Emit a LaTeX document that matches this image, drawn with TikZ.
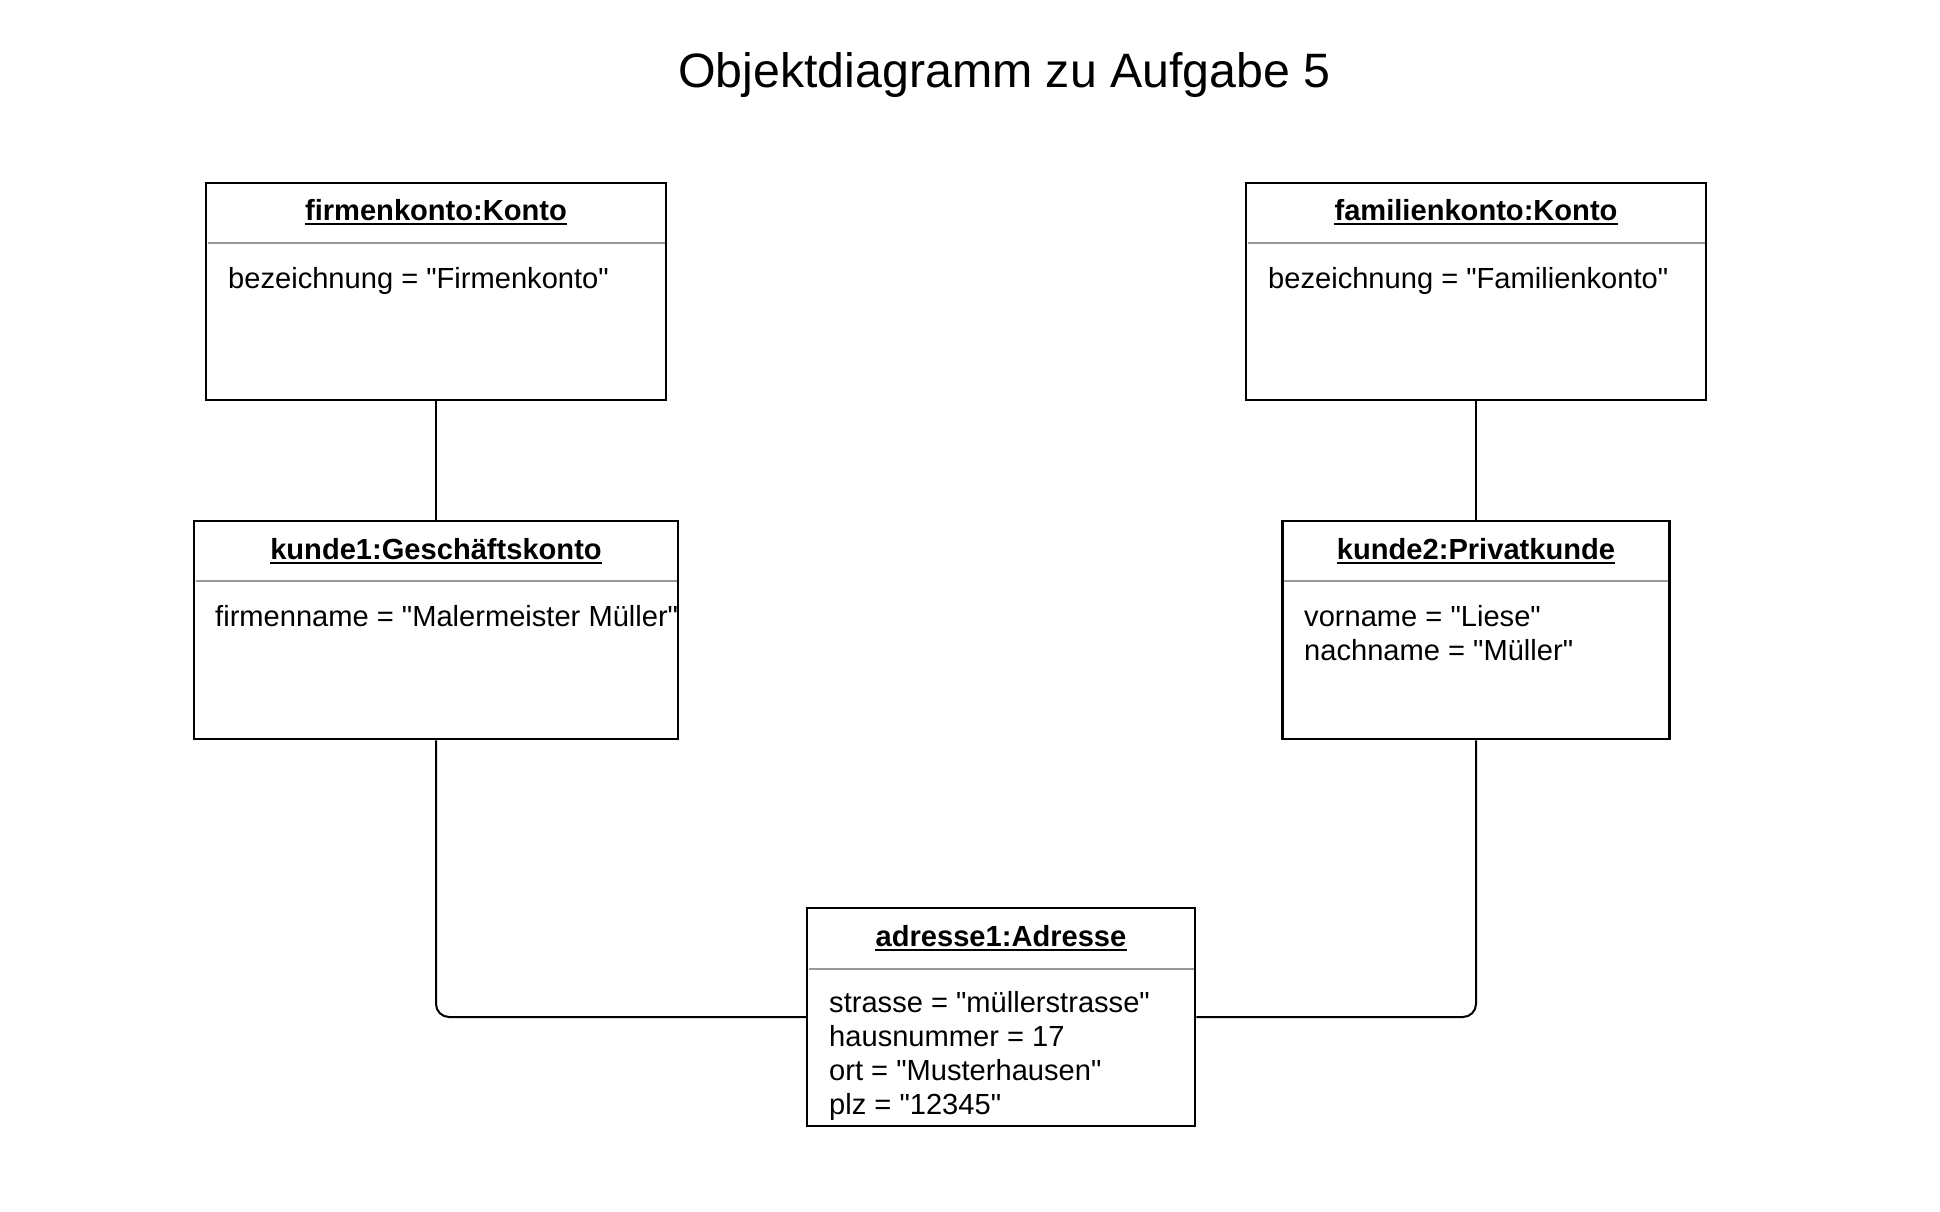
\documentclass[tikz,border=0pt]{standalone}
\usepackage{fontspec}
\setmainfont{Liberation Sans}[Ligatures=TeXOff]
\begin{document}
\begin{tikzpicture}[x=1pt,y=-1pt,
  obj/.style={draw=black, line width=2.5pt, rectangle, inner sep=0pt},
  hdr/.style={font=\fontsize{29.1}{34}\selectfont\bfseries, anchor=base, inner sep=0pt},
  attr/.style={font=\fontsize{29.1}{34}\selectfont, anchor=base west, inner sep=0pt},
  sepline/.style={draw=black!40, line width=2pt},
  uline/.style={draw=black, line width=2pt},
  conn/.style={draw=black, line width=2pt, rounded corners=13pt}]

\useasboundingbox (0,0) rectangle (1940,1212);

\node[font=\fontsize{48.3}{56}\selectfont, anchor=base, inner sep=0pt] (title) at (1004.5,88) {Objektdiagramm zu Aufgabe 5};

% boxes
\node[obj, minimum width=460pt, minimum height=217pt] (fk) at (436,291.5) {};
\node[obj, minimum width=460pt, minimum height=217pt] (famk) at (1476,291.5) {};
\node[obj, minimum width=484pt, minimum height=218pt] (k1) at (436,630) {};
\node[obj, minimum width=387pt, minimum height=218pt] (k2) at (1476,630) {};
\node[obj, minimum width=388pt, minimum height=218pt] (ad) at (1001,1017) {};

% connectors
\draw[conn] (fk.south) -- (k1.north);
\draw[conn] (famk.south) -- (k2.north);
\draw[conn] (k1.south) |- (ad.west);
\draw[conn] (k2.south) |- (ad.east);

% firmenkonto
\node[hdr] (fkh) at (436,220) {firmenkonto:Konto};
\draw[uline] ([yshift=-4pt]fkh.base west) -- ([yshift=-4pt]fkh.base east);
\draw[sepline] (207.5,243) -- (664.5,243);
\node[attr] (fka) at (228,288) {bezeichnung = "Firmenkonto"};

% familienkonto
\node[hdr] (famkh) at (1476,220) {familienkonto:Konto};
\draw[uline] ([yshift=-4pt]famkh.base west) -- ([yshift=-4pt]famkh.base east);
\draw[sepline] (1247.5,243) -- (1704.5,243);
\node[attr] (famka) at (1268,288) {bezeichnung = "Familienkonto"};

% kunde1
\node[hdr] (k1h) at (436,559) {kunde1:Geschäftskonto};
\draw[uline] ([yshift=-4pt]k1h.base west) -- ([yshift=-4pt]k1h.base east);
\draw[sepline] (195.5,581) -- (676.5,581);
\node[attr] (k1a) at (215,626) {firmenname = "Malermeister Müller"};

% kunde2
\node[hdr] (k2h) at (1476,559) {kunde2:Privatkunde};
\draw[uline] ([yshift=-4pt]k2h.base west) -- ([yshift=-4pt]k2h.base east);
\draw[sepline] (1284,581) -- (1668,581);
\node[attr] (k2a) at (1304,626) {vorname = "Liese"};
\node[attr] (k2b) at (1304,660) {nachname = "Müller"};

% adresse1
\node[hdr] (adh) at (1001,946) {adresse1:Adresse};
\draw[uline] ([yshift=-4pt]adh.base west) -- ([yshift=-4pt]adh.base east);
\draw[sepline] (808.5,969) -- (1193.5,969);
\node[attr] (ada) at (829,1012) {strasse = "müllerstrasse"};
\node[attr] (adb) at (829,1046) {hausnummer = 17};
\node[attr] (adc) at (829,1080) {ort = "Musterhausen"};
\node[attr] (add) at (829,1114) {plz = "12345"};
\end{tikzpicture}
\end{document}
